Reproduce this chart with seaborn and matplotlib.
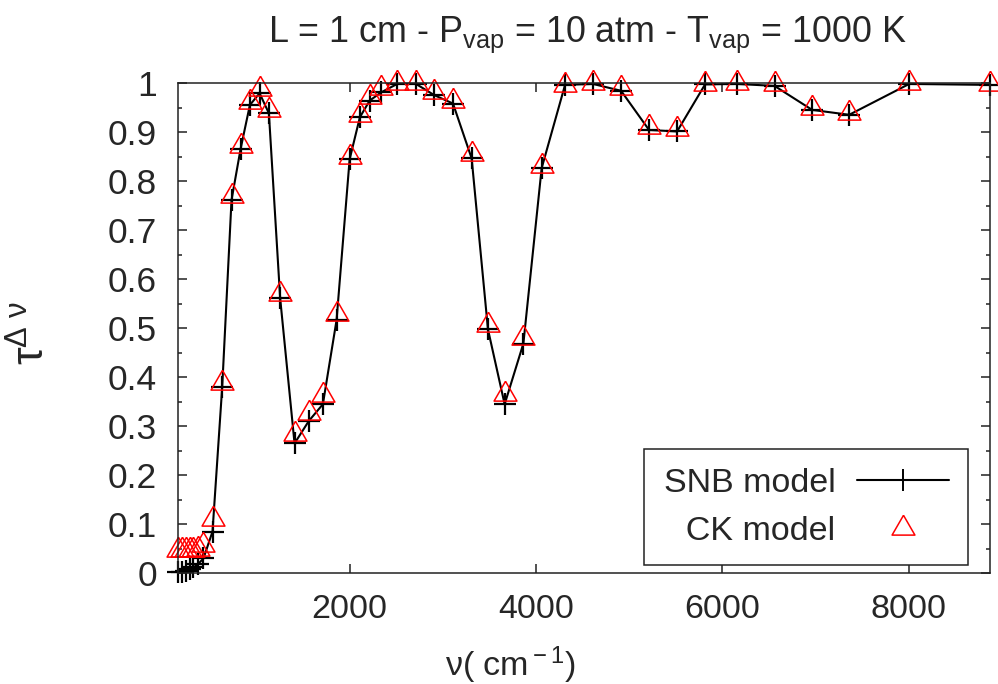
import numpy as np
import pandas as pd
import matplotlib
matplotlib.use('Agg')
import matplotlib.pyplot as plt
from matplotlib.ticker import MultipleLocator, FuncFormatter
from matplotlib.lines import Line2D
import seaborn as sns

# wavenumber (cm-1)
nu = [155, 200, 240, 285, 325, 370, 432, 529, 633, 733, 830, 930, 1034, 1134,
      1255, 1409, 1563, 1713, 1860, 2000, 2110, 2215, 2340, 2511, 2712, 2909,
      3109, 3309, 3484, 3663, 3864, 4060, 4311, 4611, 4912, 5212, 5513, 5813,
      6157, 6558, 6962, 7359, 8003, 8870]

tau_snb = [0.002, 0.003, 0.005, 0.008, 0.012, 0.018, 0.03, 0.085, 0.38, 0.762,
           0.866, 0.956, 0.98, 0.939, 0.561, 0.265, 0.311, 0.345, 0.517, 0.845,
           0.931, 0.965, 0.982, 0.999, 0.999, 0.976, 0.959, 0.847, 0.498, 0.345,
           0.469, 0.827, 0.997, 0.999, 0.985, 0.905, 0.902, 0.998, 0.999, 0.995,
           0.946, 0.936, 0.999, 0.997]

tau_ck = [0.047, 0.047, 0.048, 0.048, 0.048, 0.049, 0.058, 0.11, 0.388, 0.77,
          0.872, 0.962, 0.988, 0.945, 0.57, 0.285, 0.327, 0.364, 0.53, 0.849,
          0.936, 0.972, 0.99, 1.0, 1.0, 0.982, 0.965, 0.855, 0.507, 0.365,
          0.481, 0.831, 0.997, 1.0, 0.991, 0.912, 0.908, 0.999, 1.0, 0.998,
          0.949, 0.939, 1.0, 0.999]

df = pd.DataFrame({'nu': nu, 'snb': tau_snb, 'ck': tau_ck})

sns.set_style('ticks')
plt.rcParams['font.family'] = ['Liberation Sans', 'DejaVu Sans']
plt.rcParams['mathtext.fontset'] = 'custom'
plt.rcParams['mathtext.rm'] = 'Liberation Sans'
plt.rcParams['mathtext.it'] = 'Liberation Sans:italic'
plt.rcParams['mathtext.bf'] = 'Liberation Sans:bold'

fs = 24.5
fig = plt.figure(figsize=(9.98, 6.84), dpi=100)
ax = fig.add_axes([0.178, 0.162, 0.814, 0.716])

# open triangle, closed path
tri = [(0, 0.577), (-0.5, -0.289), (0.5, -0.289), (0, 0.577)]

sns.lineplot(data=df, x='nu', y='snb', ax=ax, color='k', lw=1.5,
             marker='+', ms=16, mec='k', mew=1.6, legend=False, clip_on=False)
sns.lineplot(data=df, x='nu', y='ck', ax=ax, color='red', linestyle='none',
             marker=tri, ms=19, mfc='none', mec='red', mew=1.1, legend=False,
             clip_on=False)

ax.set_xlim(155, 8870)
ax.set_ylim(0, 1)
ax.xaxis.set_major_locator(MultipleLocator(2000))
ax.yaxis.set_major_locator(MultipleLocator(0.1))
ax.yaxis.set_minor_locator(MultipleLocator(0.05))
ax.yaxis.set_major_formatter(FuncFormatter(lambda v, p: '%g' % round(v, 2)))
ax.tick_params(which='both', direction='in', top=True, right=True,
               labelsize=fs, width=1.1, color='#222222')
ax.tick_params(axis='x', which='major', length=6.5, pad=15)
ax.tick_params(axis='y', which='major', length=6.5, pad=15, labelsize=25.5)
ax.tick_params(which='minor', length=3.2)
for s in ax.spines.values():
    s.set_linewidth(1.1)
    s.set_color('#222222')

ax.set_xlabel('ν( cm$^{\\rm -1}$)', fontsize=fs, va='top')
ax.xaxis.set_label_coords(0.41, -0.145)
ax.set_ylabel(r'τ$^{\rm Δ\ ν}$', fontsize=32)
ax.yaxis.set_label_coords(-0.152, 0.49)

fig.text(0.588, 1 - 42 / 684,
         r'L = 1 cm - P$_{\mathrm{vap}}$ = 10 atm - T$_{\mathrm{vap}}$ = 1000 K',
         ha='center', va='baseline', fontsize=25.8)

h1 = Line2D([], [], color='k', lw=1.5, marker='+', ms=16, mew=1.4)
h2 = Line2D([], [], color='red', linestyle='none', marker=tri, ms=19,
            mfc='none', mec='red', mew=1.1)
leg = ax.legend([h1, h2], ['SNB model', '\u2002\u2009CK model'], loc='lower right',
                bbox_to_anchor=(0.973, 0.016), borderaxespad=0, fontsize=fs,
                markerfirst=False, numpoints=1, handlelength=2.7,
                handletextpad=0.65, labelspacing=0.5, borderpad=0.55,
                fancybox=False, framealpha=1, edgecolor='#222222')
leg.get_frame().set_linewidth(1.1)

fig.savefig('out.png', dpi=100)
